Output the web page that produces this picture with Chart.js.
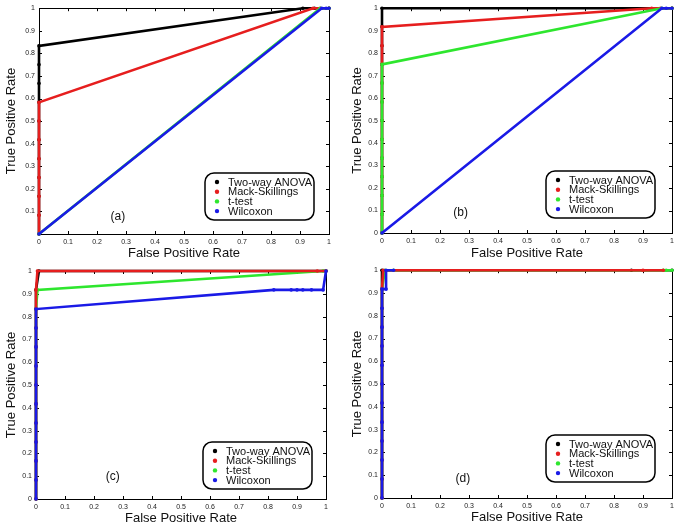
<!DOCTYPE html>
<html>
<head>
<meta charset="utf-8">
<script src="https://cdn.jsdelivr.net/npm/chart.js@4/dist/chart.umd.min.js"></script>
<style>
  html, body { margin: 0; padding: 0; background: #fff; }
  #wrap { position: relative; width: 685px; height: 530px; overflow: hidden; }
  canvas { position: absolute; }
</style>
</head>
<body>
<div id="wrap">
  <canvas id="pa" width="342" height="262" style="left:0px;top:0px"></canvas>
  <canvas id="pb" width="343" height="262" style="left:342px;top:0px"></canvas>
  <canvas id="pc" width="342" height="268" style="left:0px;top:262px"></canvas>
  <canvas id="pd" width="343" height="268" style="left:342px;top:262px"></canvas>
</div>
<script>
// ---------- data ----------
const seriesNames = ['Two-way ANOVA', 'Mack-Skillings', 't-test', 'Wilcoxon'];
const panelLabels = ['(a)', '(b)', '(c)', '(d)'];
const xTickLabels = ['0','0.1','0.2','0.3','0.4','0.5','0.6','0.7','0.8','0.9','1'];
const yTickLabelsA = ['','0.1','0.2','0.3','0.4','0.5','0.6','0.7','0.8','0.9','1'];
const yTickLabels = ['0','0.1','0.2','0.3','0.4','0.5','0.6','0.7','0.8','0.9','1'];
const xTitle = 'False Positive Rate';
const yTitle = 'True Positive Rate';

// panel (a)
const aAnovaFPR = [0,0,0,0,0,0,0,0,0,0,0,0.91,0.95,1];
const aAnovaTPR = [0,0.083,0.167,0.25,0.333,0.417,0.5,0.583,0.667,0.75,0.833,1,1,1];
const aMackFPR  = [0,0,0,0,0,0,0,0,0.945,0.97,1];
const aMackTPR  = [0,0.083,0.167,0.25,0.333,0.417,0.5,0.583,1,1,1];
const aTtestFPR = [0,0.97,1];
const aTtestTPR = [0,1,1];
const aWilcFPR  = [0,0.975,0.99,1];
const aWilcTPR  = [0,1,1,1];

// panel (b)
const bAnovaFPR = [0,0,0,0,0,0,0,0,0,0,0,0,0,1];
const bAnovaTPR = [0,0.083,0.167,0.25,0.333,0.417,0.5,0.583,0.667,0.75,0.833,0.917,1,1];
const bMackFPR  = [0,0,0,0,0,0,0,0,0,0,0,0,0.93,0.96,1];
const bMackTPR  = [0,0.083,0.167,0.25,0.333,0.417,0.5,0.583,0.667,0.75,0.833,0.917,1,1,1];
const bTtestFPR = [0,0,0,0,0,0,0,0,0,0,0.965,1];
const bTtestTPR = [0,0.083,0.167,0.25,0.333,0.417,0.5,0.583,0.667,0.75,1,1];
const bWilcFPR  = [0,0.965,0.98,1];
const bWilcTPR  = [0,1,1,1];

// panel (c)
const cAnovaFPR = [0,0,0,0,0,0,0,0,0,0,0,0,0.01,1];
const cAnovaTPR = [0,0.083,0.167,0.25,0.333,0.417,0.5,0.583,0.667,0.75,0.833,0.917,1,1];
const cMackFPR  = [0,0,0,0,0,0,0,0,0,0,0,0,0.005,0.97,1];
const cMackTPR  = [0,0.083,0.167,0.25,0.333,0.417,0.5,0.583,0.667,0.75,0.833,0.917,1,1,1];
const cTtestFPR = [0,0,0,0,0,0,0,0,0,0,0,0.005,0.99,1];
const cTtestTPR = [0,0.083,0.167,0.25,0.333,0.417,0.5,0.583,0.667,0.75,0.833,0.917,1,1];
const cWilcFPR  = [0,0,0,0,0,0,0,0,0,0,0,0.82,0.88,0.9,0.92,0.95,0.99,1];
const cWilcTPR  = [0,0.083,0.167,0.25,0.333,0.417,0.5,0.583,0.667,0.75,0.833,0.917,0.917,0.917,0.917,0.917,0.917,1];

// panel (d)
const dAnovaFPR = [0,0,0,0,0,0,0,0,0,0,0,0,0,0.86,1];
const dAnovaTPR = [0,0.083,0.167,0.25,0.333,0.417,0.5,0.583,0.667,0.75,0.833,0.917,1,1,1];
const dMackFPR  = [0,0,0,0,0,0,0,0,0,0,0,0,0.004,0.9,0.97];
const dMackTPR  = [0,0.083,0.167,0.25,0.333,0.417,0.5,0.583,0.667,0.75,0.833,0.917,1,1,1];
const dTtestFPR = [0,0,0,0,0,0,0,0,0,0,0,0,0.01,0.04,0.97,0.98,1];
const dTtestTPR = [0,0.083,0.167,0.25,0.333,0.417,0.5,0.583,0.667,0.75,0.833,0.917,1,1,1,1,1];
const dWilcFPR  = [0,0,0,0,0,0,0,0,0,0,0,0,0.014,0.014,0.04];
const dWilcTPR  = [0,0.083,0.167,0.25,0.333,0.417,0.5,0.583,0.667,0.75,0.833,0.917,0.917,1,1];

// ---------- styles ----------
const colors = ['#000000', '#e61e1e', '#2ee62e', '#1a1ae6'];
const FONT = '"Liberation Sans", Arial, sans-serif';

function pts(xs, ys) { return xs.map((x, i) => ({ x: x, y: ys[i] })); }

const framePlugin = {
  id: 'frame',
  beforeDatasetsDraw(chart) {
    const { ctx, chartArea: a, scales } = chart;
    ctx.save();
    ctx.strokeStyle = '#000';
    ctx.lineWidth = 1;
    ctx.strokeRect(Math.round(a.left) + 0.5, Math.round(a.top) + 0.5,
                   Math.round(a.right - a.left), Math.round(a.bottom - a.top));
    const tl = 3;
    scales.x.ticks.forEach(t => {
      const px = Math.round(scales.x.getPixelForValue(t.value)) + 0.5;
      ctx.beginPath();
      ctx.moveTo(px, a.bottom); ctx.lineTo(px, a.bottom - tl);
      ctx.moveTo(px, a.top); ctx.lineTo(px, a.top + tl);
      ctx.stroke();
    });
    scales.y.ticks.forEach(t => {
      const py = Math.round(scales.y.getPixelForValue(t.value)) + 0.5;
      ctx.beginPath();
      ctx.moveTo(a.left, py); ctx.lineTo(a.left + tl, py);
      ctx.moveTo(a.right, py); ctx.lineTo(a.right - tl, py);
      ctx.stroke();
    });
    ctx.restore();
  },
  afterDatasetsDraw(chart, args, opts) {
    const { ctx, chartArea: a, scales } = chart;
    ctx.save();
    // panel label
    ctx.fillStyle = '#111';
    ctx.font = '12px ' + FONT;
    ctx.textAlign = 'center';
    ctx.textBaseline = 'middle';
    ctx.fillText(opts.label, scales.x.getPixelForValue(opts.labelPos[0]), scales.y.getPixelForValue(opts.labelPos[1]));
    // legend box
    const w = 109, h = 47, r = 9;
    const x0 = a.right - opts.legGap[0] - w, y0 = a.bottom - opts.legGap[1] - h;
    ctx.beginPath();
    ctx.roundRect(x0, y0, w, h, r);
    ctx.fillStyle = '#fff';
    ctx.fill();
    ctx.lineWidth = 1.5;
    ctx.strokeStyle = '#000';
    ctx.stroke();
    ctx.textAlign = 'left';
    ctx.font = '11px ' + FONT;
    chart.data.datasets.forEach((ds, i) => {
      const yy = y0 + 9 + i * 9.7;
      ctx.fillStyle = ds.borderColor;
      ctx.beginPath();
      ctx.arc(x0 + 12, yy, 2.2, 0, Math.PI * 2);
      ctx.fill();
      ctx.fillStyle = '#111';
      ctx.fillText(ds.label, x0 + 23, yy + 0.5);
    });
    ctx.restore();
  }
};

function makePanel(id, series, yLabels, lay) {
  const datasets = series.map((s, i) => ({
    label: seriesNames[i],
    data: pts(s[0], s[1]),
    showLine: true,
    borderColor: colors[i],
    backgroundColor: colors[i],
    pointBackgroundColor: colors[i],
    pointBorderWidth: 0,
    pointRadius: 1.8,
    borderWidth: 2.6,
    clip: false,
    order: lay.order[i]
  }));
  const tickFont = { family: FONT, size: 7 };
  const titleFont = { family: FONT, size: 13 };
  new Chart(document.getElementById(id), {
    type: 'scatter',
    data: { datasets },
    options: {
      responsive: false,
      devicePixelRatio: 1,
      animation: false,
      events: [],
      layout: { padding: { left: 0, top: lay.T, right: lay.R, bottom: 0 } },
      plugins: {
        legend: { display: false },
        tooltip: { enabled: false },
        frame: { label: lay.label, labelPos: lay.labelPos, legGap: lay.legGap }
      },
      scales: {
        x: {
          type: 'linear', min: 0, max: 1,
          afterFit: s => { s.height = lay.B; },
          grid: { display: false, drawTicks: false },
          border: { display: false },
          ticks: { stepSize: 0.1, autoSkip: false, maxRotation: 0, padding: 4, color: '#222', font: tickFont,
                   callback: (v, i) => xTickLabels[i] },
          title: { display: true, text: xTitle, color: '#111', font: titleFont, padding: { top: 0, bottom: lay.xtp } }
        },
        y: {
          type: 'linear', min: 0, max: 1,
          afterFit: s => { s.width = lay.L; },
          grid: { display: false, drawTicks: false },
          border: { display: false },
          ticks: { stepSize: 0.1, autoSkip: false, padding: 4, color: '#222', font: tickFont,
                   callback: (v, i) => yLabels[i] },
          title: { display: true, text: yTitle, color: '#111', font: titleFont, padding: { top: lay.ytp, bottom: 0 } }
        }
      }
    },
    plugins: [framePlugin]
  });
}

const stdOrder = [3, 2, 1, 0];
const redTopOrder = [3, 1, 2, 0];

makePanel('pa', [[aAnovaFPR, aAnovaTPR], [aMackFPR, aMackTPR], [aTtestFPR, aTtestTPR], [aWilcFPR, aWilcTPR]],
  yTickLabelsA, { L: 39, T: 6, R: 13, B: 28, xtp: 1.2, ytp: 4, order: stdOrder, label: panelLabels[0], labelPos: [0.272, 0.075], legGap: [15, 14] });
makePanel('pb', [[bAnovaFPR, bAnovaTPR], [bMackFPR, bMackTPR], [bTtestFPR, bTtestTPR], [bWilcFPR, bWilcTPR]],
  yTickLabels, { L: 40, T: 6, R: 13, B: 29, xtp: 1.2, ytp: 8, order: stdOrder, label: panelLabels[1], labelPos: [0.271, 0.092], legGap: [17, 15] });
makePanel('pc', [[cAnovaFPR, cAnovaTPR], [cMackFPR, cMackTPR], [cTtestFPR, cTtestTPR], [cWilcFPR, cWilcTPR]],
  yTickLabels, { L: 36, T: 9, R: 16, B: 31, xtp: 4, ytp: 4, order: redTopOrder, label: panelLabels[2], labelPos: [0.265, 0.098], legGap: [14, 10] });
makePanel('pd', [[dAnovaFPR, dAnovaTPR], [dMackFPR, dMackTPR], [dTtestFPR, dTtestTPR], [dWilcFPR, dWilcTPR]],
  yTickLabels, { L: 40, T: 7, R: 13, B: 32, xtp: 5, ytp: 8, order: redTopOrder, label: panelLabels[3], labelPos: [0.279, 0.083], legGap: [17, 16] });
</script>
</body>
</html>
